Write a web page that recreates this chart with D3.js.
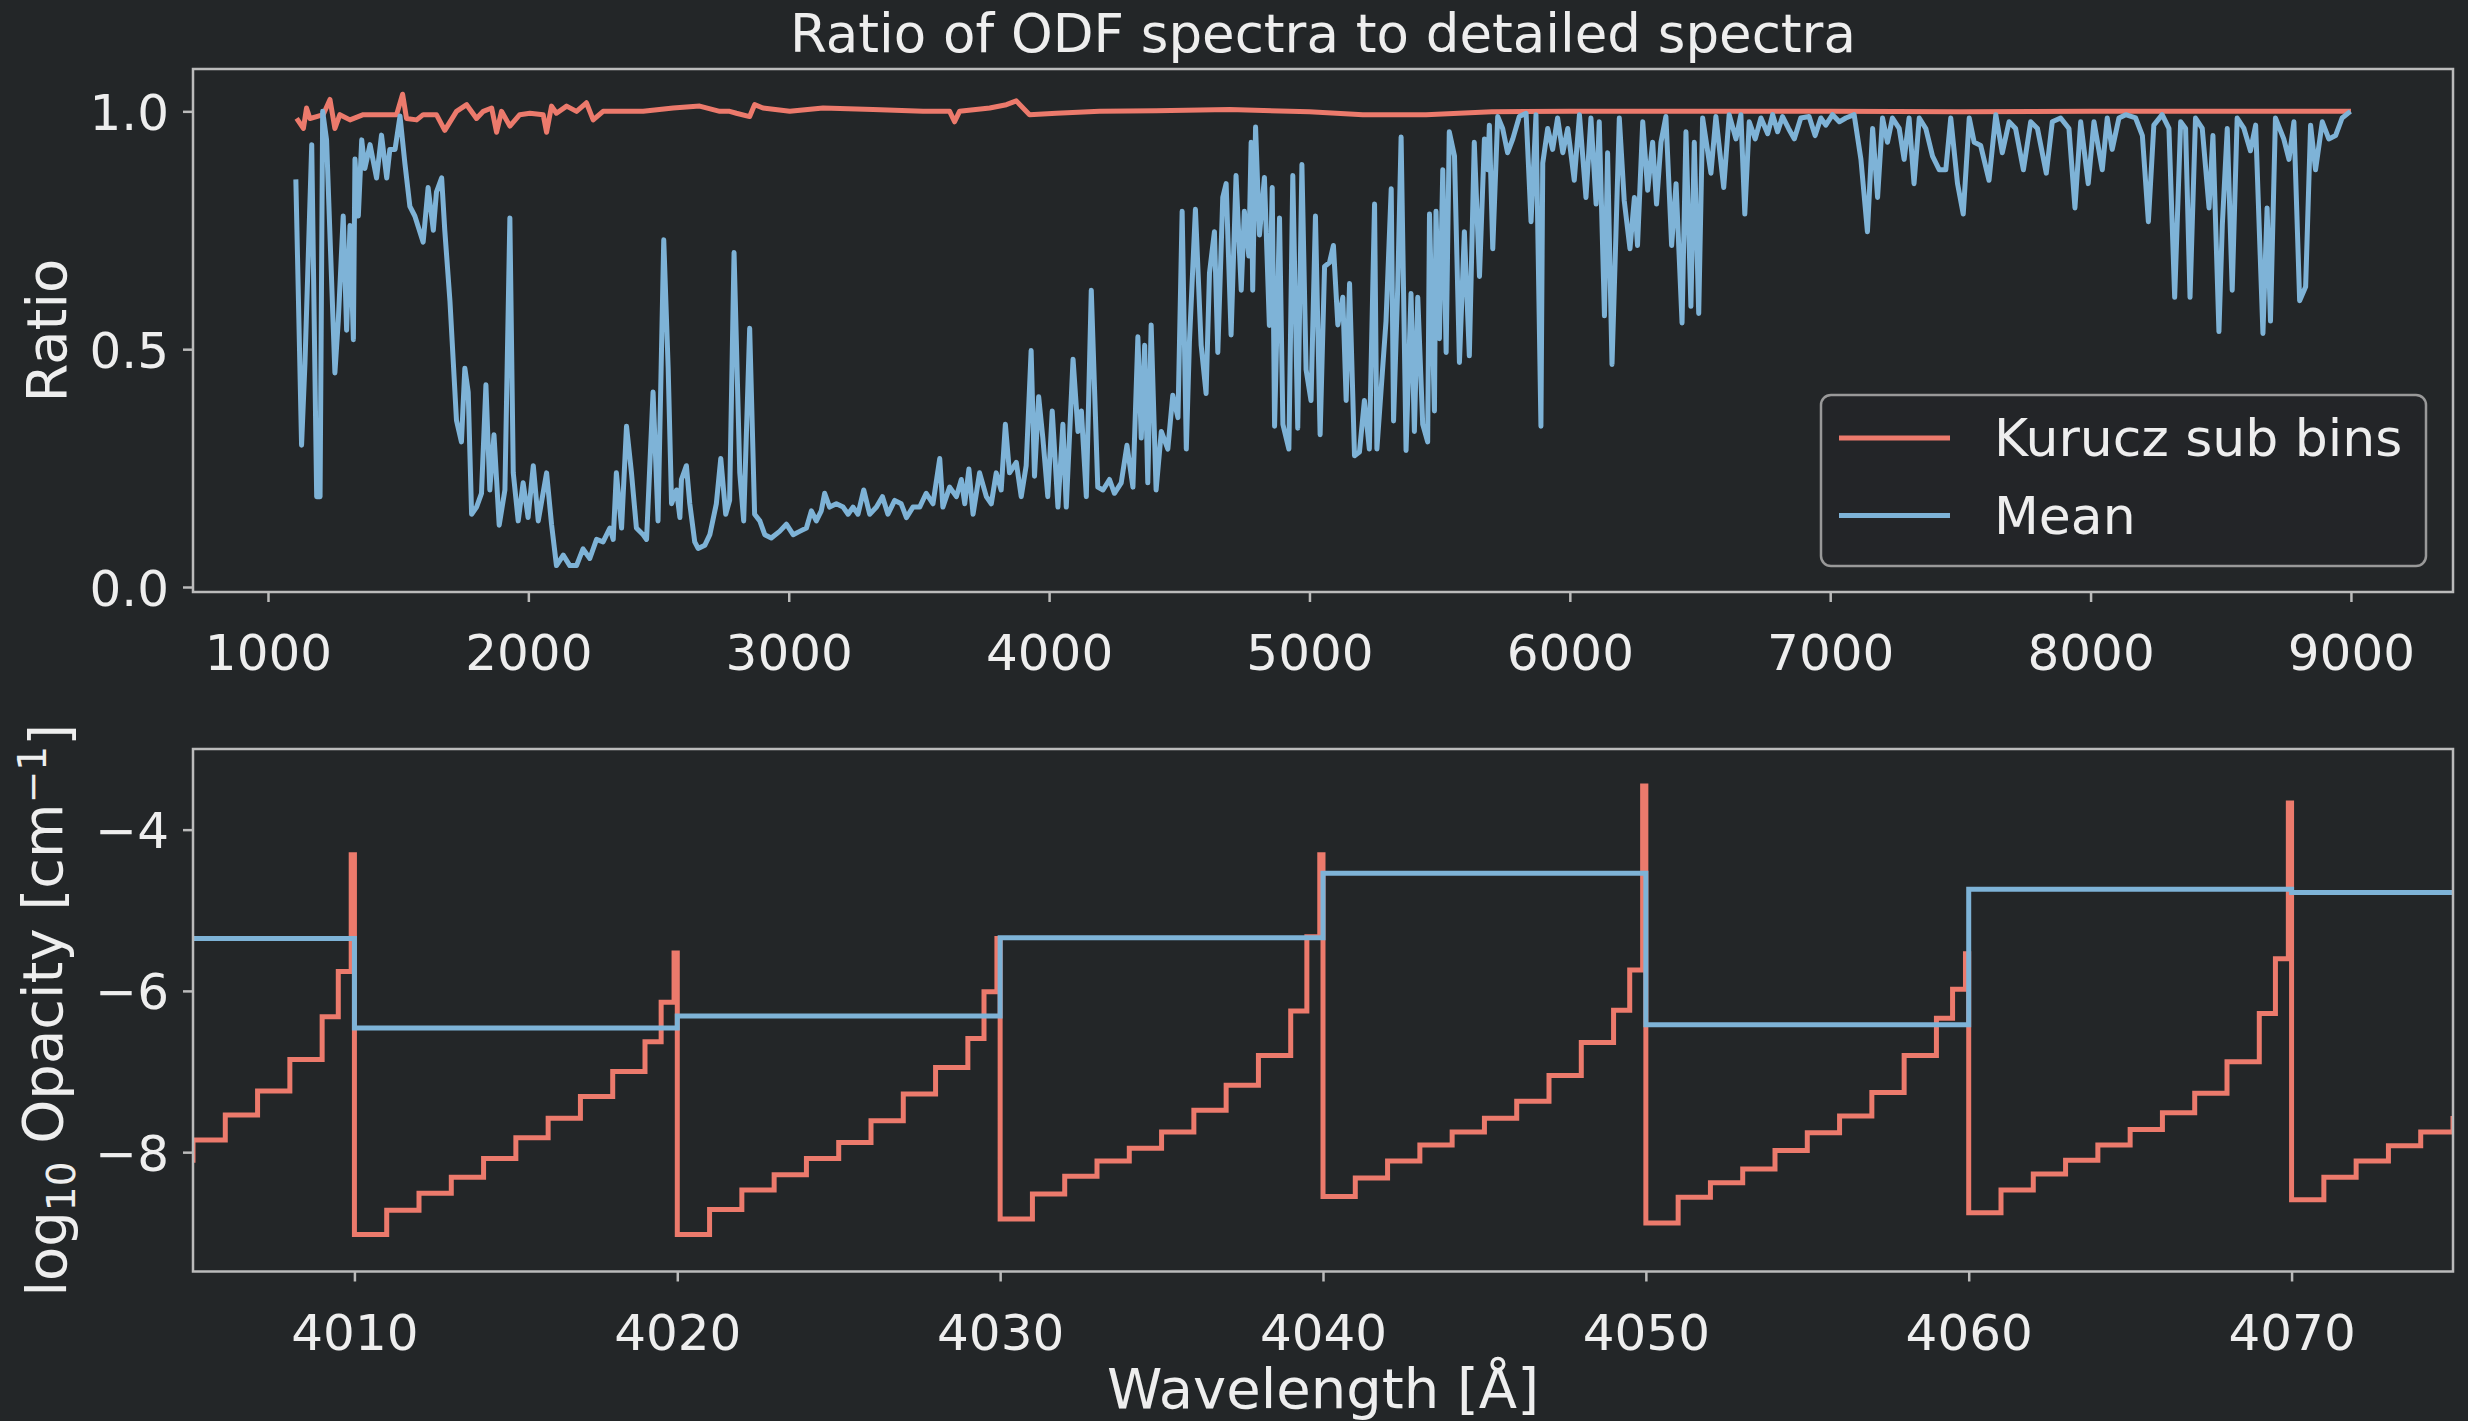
<!DOCTYPE html>
<html lang="en">
<head>
  <meta charset="UTF-8">
  <title>Ratio of ODF spectra to detailed spectra</title>
  <script src="https://d3js.org/d3.v7.min.js"></script>
  <style>
    html, body { margin: 0; padding: 0; background: #232628; }
    text { font-family: "DejaVu Sans", sans-serif; fill: #eeeeee; }
  </style>
</head>
<body>
  <div id="chart"></div>
  <script>
    // ---- top panel: ratio vs wavelength ----
    const meanWl = [1107,1129,1142,1168,1187,1200,1210,1225,1257,1270,1289,1302,1315,1328,1334,1347,1360,1372,1392,1417,1436,1456,1468,1488,1507,1526,1545,1564,1596,1615,1635,1647,1667,1679,1699,1724,1743,1756,1769,1782,1801,1820,1837,1852,1868,1888,1910,1929,1942,1961,1980,1999,2019,2038,2070,2089,2108,2134,2159,2185,2210,2236,2262,2287,2313,2326,2338,2358,2377,2396,2415,2441,
      2454,2479,2498,2520,2537,2550,2569,2582,2588,2607,2620,2639,2652,2678,2697,2722,2739,2758,2773,2790,2812,2827,2850,2869,2889,2908,2933,2965,2991,3017,3042,3068,3087,3106,3125,3138,3157,3183,3209,3228,3247,3266,3288,3311,3337,3360,3381,3407,3432,3452,3477,3503,3528,3554,3580,3592,3618,3644,3663,3676,3692,3708,3733,3759,3778,3797,3816,3832,3848,3874,3893,3912,3931,3944,3960,3976,3995,4012,4034,4053,4066,4092,4111,4124,4143,4162,4187,
      4207,4232,4251,4277,4299,4322,4341,4354,4367,4379,4392,4411,4431,4456,4475,4495,4511,4527,4539,4562,4584,4603,4616,4635,4648,4667,4680,4699,4718,4738,4750,4767,4776,4782,4793,4808,4827,4846,4857,4866,4885,4898,4921,4936,4955,4971,4987,5006,5023,5041,5058,5077,5092,5109,5128,5141,5154,5173,5192,5211,5230,5250,5259,5294,5314,5323,5339,5352,5371,5390,5403,5416,5435,5454,5461,5480,5486,5499,5512,5525,5537,5557,5576,5595,5614,5633,5653,5672,5685,5691,5704,5723,5742,5761,5781,5806,5832,5851,5870,5889,
      5896,5915,5934,5953,5973,5992,6017,6037,6062,6081,6101,6113,6133,6145,6162,6177,6190,6209,6231,6248,6260,6280,6299,6318,6333,6350,6369,6391,6408,6431,6446,6465,6478,6495,6510,6542,6561,6591,6612,6638,6657,6672,6689,6712,6734,6760,6779,6798,6817,6840,6862,6887,6919,6942,6964,6983,7009,7035,7060,7092,7118,7143,7163,7182,7201,7220,7239,7265,7284,7303,7322,7342,7367,7393,7419,7444,7463,7489,7511,7534,7553,7578,7610,7636,
      7661,7687,7712,7742,7770,7796,7830,7853,7885,7917,7940,7962,7991,8013,8045,8064,8083,8109,8135,8173,8199,8222,8243,8275,8301,8323,8346,8365,8382,8403,8429,8455,8470,8493,8506,8525,8544,8563,8589,8614,8634,8662,8678,8691,8710,8742,8762,8781,8803,8826,8845,8864,8890,8915,8941,8966,8998]
    const meanRatio = [0.857,0.298,0.47,0.93,0.19,0.19,1.0,0.94,0.45,0.56,0.78,0.54,0.76,0.52,0.9,0.78,0.94,0.88,0.93,0.86,0.95,0.86,0.92,0.92,0.99,0.89,0.8,0.78,0.725,0.84,0.75,0.83,0.86,0.75,0.6,0.35,0.305,0.46,0.41,0.153,0.168,0.197,0.425,0.204,0.32,0.13,0.204,0.776,0.24,0.139,0.219,0.146,0.255,0.139,0.24,0.132,0.045,0.067,0.045,0.045,0.08,0.06,0.1,0.095,0.124,0.1,0.24,0.124,0.338,0.24,0.124,0.11,
      0.1,0.41,0.139,0.73,0.46,0.175,0.204,0.146,0.226,0.255,0.175,0.095,0.081,0.088,0.11,0.175,0.27,0.153,0.182,0.703,0.24,0.139,0.544,0.153,0.139,0.11,0.103,0.117,0.132,0.11,0.117,0.124,0.16,0.139,0.16,0.197,0.168,0.175,0.168,0.153,0.168,0.153,0.204,0.153,0.168,0.19,0.153,0.182,0.175,0.146,0.168,0.168,0.197,0.175,0.27,0.168,0.21,0.19,0.226,0.175,0.248,0.153,0.24,0.19,0.175,0.24,0.204,0.342,0.24,0.262,0.19,0.255,0.497,0.233,0.4,0.313,0.19,0.37,0.168,0.342,0.168,0.479,0.327,0.37,0.19,0.624,0.21,
      0.204,0.226,0.197,0.219,0.298,0.21,0.526,0.313,0.508,0.219,0.551,0.204,0.327,0.29,0.403,0.356,0.79,0.29,0.515,0.794,0.508,0.407,0.66,0.747,0.493,0.819,0.848,0.53,0.865,0.624,0.79,0.696,0.935,0.624,0.967,0.74,0.861,0.55,0.84,0.338,0.776,0.342,0.29,0.865,0.334,0.888,0.457,0.392,0.78,0.32,0.674,0.682,0.718,0.551,0.609,0.392,0.638,0.276,0.284,0.392,0.29,0.805,0.29,0.559,0.837,0.349,0.631,0.946,0.287,0.617,0.327,0.609,0.342,0.305,0.784,0.37,0.79,0.522,0.877,0.493,0.957,0.906,0.472,0.747,0.486,0.935,0.653,0.942,0.877,0.971,0.711,0.989,0.964,0.913,0.942,0.989,0.996,0.768,0.993,0.338,
      0.891,0.964,0.92,0.986,0.913,0.964,0.855,0.993,0.819,0.986,0.805,0.978,0.57,0.913,0.468,0.74,0.986,0.812,0.711,0.819,0.718,0.978,0.834,0.935,0.805,0.935,0.989,0.718,0.848,0.555,0.957,0.59,0.935,0.575,0.986,0.87,0.989,0.84,0.993,0.942,0.993,0.784,0.978,0.942,0.986,0.953,0.993,0.957,0.989,0.964,0.942,0.986,0.989,0.949,0.986,0.971,0.993,0.978,0.986,0.993,0.899,0.747,0.964,0.819,0.986,0.935,0.986,0.964,0.899,0.986,0.848,0.986,0.964,0.906,0.877,0.877,0.986,0.848,0.784,0.986,0.935,0.928,0.855,0.993,
      0.913,0.978,0.964,0.877,0.978,0.964,0.87,0.978,0.986,0.964,0.797,0.978,0.848,0.978,0.877,0.986,0.92,0.986,0.993,0.986,0.949,0.768,0.971,0.993,0.964,0.609,0.978,0.964,0.609,0.986,0.964,0.797,0.949,0.537,0.761,0.964,0.624,0.986,0.964,0.917,0.971,0.533,0.797,0.559,0.986,0.942,0.899,0.978,0.602,0.631,0.971,0.877,0.978,0.942,0.949,0.986,1.0]

    const kuruczWl = [1110,1136,1148,1161,1187,1212,1238,1257,1276,1315,1366,1417,1468,1494,1517,1532,1571,1596,1647,1679,1724,1763,1801,1827,1859,1878,1897,1929,1967,2006,2057,2070,2089,2108,2147,2185,2223,2249,2287,2338,2390,2441,2556,2658,2735,2773,2799,2850,2869,2901,3004,3132,3324,3516,3618,3637,3656,3772,3836,3874,3925,4028,4194,4411,4693,5000,5205,5448,5700,6000,6500,7000,7500,8000,8500,9000]
    const kuruczRatio = [0.985,0.964,1.007,0.985,0.989,0.993,1.025,0.964,0.993,0.982,0.993,0.993,0.993,0.993,1.036,0.985,0.982,0.993,0.993,0.96,1.0,1.014,0.985,1.0,1.007,0.956,1.0,0.969,0.993,0.996,0.993,0.956,1.011,0.996,1.011,1.0,1.018,0.982,1.0,1.0,1.0,1.0,1.007,1.011,1.0,1.0,0.996,0.989,1.014,1.007,1.0,1.007,1.004,1.0,1.0,0.978,1.0,1.007,1.014,1.022,0.993,0.996,1.0,1.001,1.004,0.999,0.993,0.993,0.999,1.0,1.0,1.0,0.999,1.0,1.0,1.0]

    const ratioXTicks = [1000,2000,3000,4000,5000,6000,7000,8000,9000]
    const ratioYTicks = [0.0, 0.5, 1.0]

    // ---- bottom panel: opacity in 10 A bins ----
    const binStarts = [4000,4010,4020,4030,4040,4050,4060,4070]
    const binWidth = 10
    const subEdges = [0,0.1,0.2,0.3,0.4,0.5,0.6,0.7,0.8,0.9,0.95,0.99]
    const kuruczLevels = [
      [null,null,null,null,-8.10,-7.85,-7.54,-7.24,-6.85,-6.32,-5.76,-4.31],
      [-9.02,-8.72,-8.51,-8.31,-8.08,-7.82,-7.58,-7.31,-7.00,-6.63,-6.14,-5.53],
      [-9.02,-8.71,-8.47,-8.28,-8.08,-7.88,-7.61,-7.28,-6.95,-6.59,-6.01,-5.35],
      [-8.83,-8.52,-8.30,-8.11,-7.95,-7.75,-7.48,-7.17,-6.80,-6.25,-5.33,-4.31],
      [-8.55,-8.32,-8.11,-7.91,-7.75,-7.58,-7.37,-7.05,-6.64,-6.24,-5.74,-3.46],
      [-8.88,-8.56,-8.38,-8.21,-7.98,-7.76,-7.55,-7.26,-6.80,-6.34,-5.98,-5.54],
      [-8.75,-8.47,-8.27,-8.10,-7.91,-7.72,-7.51,-7.27,-6.88,-6.28,-5.60,-3.67],
      [-8.59,-8.31,-8.11,-7.92,-7.75,-7.55,null,null,null,null,null,null]
    ]
    const meanLevels = [-5.35,-6.46,-6.31,-5.34,-4.54,-6.42,-4.74,-4.78]

    const opacXTicks = [4010,4020,4030,4040,4050,4060,4070]
    const opacYTicks = [-8,-6,-4]

    const red = '#ec7a6c'
    const blue = '#7eb3d7'
    const spine = '#bbbbbb'

    const W = 2468, H = 1421
    const svg = d3.select('#chart').append('svg')
      .attr('width', W)
      .attr('height', H)
      .style('display', 'block')
      .style('background', '#232628')

    const topBox = { left: 193, right: 2453, top: 69, bottom: 592 }
    const botBox = { left: 193, right: 2453, top: 749, bottom: 1271.5 }

    const xTop = d3.scaleLinear().domain([712, 9392]).range([topBox.left, topBox.right])
    const yTop = d3.scaleLinear().domain([-0.0105, 1.089]).range([topBox.bottom, topBox.top])
    const xBot = d3.scaleLinear().domain([4005, 4075]).range([botBox.left, botBox.right])
    const yBot = d3.scaleLinear().domain([-9.48, -3.0]).range([botBox.bottom, botBox.top])

    function clip (id, box) {
      svg.append('clipPath').attr('id', id)
        .append('rect')
        .attr('x', box.left).attr('y', box.top)
        .attr('width', box.right - box.left).attr('height', box.bottom - box.top)
    }
    clip('clipTop', topBox)
    clip('clipBot', botBox)

    function axes (box, x, y, xticks, yticks, xfmt, yfmt) {
      const gx = svg.append('g')
        .attr('transform', 'translate(0,' + box.bottom + ')')
        .call(d3.axisBottom(x).tickValues(xticks).tickFormat(xfmt).tickSizeOuter(0).tickSize(10).tickPadding(12))
      const gy = svg.append('g')
        .attr('transform', 'translate(' + box.left + ',0)')
        .call(d3.axisLeft(y).tickValues(yticks).tickFormat(yfmt).tickSizeOuter(0).tickSize(10).tickPadding(14))
      ;[gx, gy].forEach(g => {
        g.select('.domain').remove()
        g.selectAll('line').attr('stroke', spine).attr('stroke-width', 2.5)
        g.selectAll('text').attr('fill', '#eeeeee').style('font-size', '50px')
          .style('font-family', '"DejaVu Sans", sans-serif')
      })
      gx.selectAll('text').attr('dy', '1.12em')
      gy.selectAll('text').attr('dy', '0.36em')
      svg.append('rect')
        .attr('x', box.left).attr('y', box.top)
        .attr('width', box.right - box.left).attr('height', box.bottom - box.top)
        .attr('fill', 'none').attr('stroke', spine).attr('stroke-width', 2.5)
    }

    // top panel lines
    const topLine = d3.line().x(d => xTop(d[0])).y(d => yTop(d[1]))
    const gTop = svg.append('g').attr('clip-path', 'url(#clipTop)')
    gTop.append('path')
      .datum(kuruczWl.map((w, i) => [w, kuruczRatio[i]]))
      .attr('d', topLine)
      .attr('fill', 'none').attr('stroke', red).attr('stroke-width', 5)
      .attr('stroke-linejoin', 'round')
    gTop.append('path')
      .datum(meanWl.map((w, i) => [w, meanRatio[i]]))
      .attr('d', topLine)
      .attr('fill', 'none').attr('stroke', blue).attr('stroke-width', 5)
      .attr('stroke-linejoin', 'round')

    axes(topBox, xTop, yTop, ratioXTicks, ratioYTicks, d3.format('d'), d3.format('.1f'))

    // bottom panel step lines
    const kuruczPts = []
    binStarts.forEach((b, i) => {
      subEdges.forEach((f, j) => {
        const v = kuruczLevels[i][j]
        if (v !== null) kuruczPts.push([b + f * binWidth, v])
      })
    })
    const meanPts = binStarts.map((b, i) => [b, meanLevels[i]])
    meanPts.push([binStarts[binStarts.length - 1] + binWidth, meanLevels[meanLevels.length - 1]])

    const stepLine = d3.line().x(d => xBot(d[0])).y(d => yBot(d[1])).curve(d3.curveStepAfter)
    const gBot = svg.append('g').attr('clip-path', 'url(#clipBot)')
    gBot.append('path')
      .datum(kuruczPts)
      .attr('d', stepLine)
      .attr('fill', 'none').attr('stroke', red).attr('stroke-width', 5)
    gBot.append('path')
      .datum(meanPts)
      .attr('d', stepLine)
      .attr('fill', 'none').attr('stroke', blue).attr('stroke-width', 5)

    axes(botBox, xBot, yBot, opacXTicks, opacYTicks, d3.format('d'), d3.format('d'))

    // title and labels
    svg.append('text')
      .attr('x', (topBox.left + topBox.right) / 2).attr('y', 52)
      .attr('text-anchor', 'middle')
      .style('font-size', '53px')
      .text('Ratio of ODF spectra to detailed spectra')

    svg.append('text')
      .attr('transform', 'translate(66,' + (topBox.top + topBox.bottom) / 2 + ') rotate(-90)')
      .attr('text-anchor', 'middle')
      .style('font-size', '56px')
      .text('Ratio')

    const yl = svg.append('text')
      .attr('transform', 'translate(66,' + (botBox.top + botBox.bottom) / 2 + ') rotate(-90)')
      .attr('text-anchor', 'middle')
      .style('font-size', '56px')
    yl.append('tspan').text('log')
    yl.append('tspan').attr('dy', '0.22em').style('font-size', '39px').text('10')
    yl.append('tspan').attr('dy', '-0.22em').text(' Opacity [cm')
    yl.append('tspan').attr('dy', '-0.42em').style('font-size', '39px').text('\u22121')
    yl.append('tspan').attr('dy', '0.42em').text(']')

    svg.append('text')
      .attr('x', (botBox.left + botBox.right) / 2).attr('y', 1408)
      .attr('text-anchor', 'middle')
      .style('font-size', '56px')
      .text('Wavelength [\u00c5]')

    // legend
    const lg = svg.append('g')
    lg.append('rect')
      .attr('x', 1821).attr('y', 395).attr('width', 605).attr('height', 171)
      .attr('rx', 10).attr('ry', 10)
      .attr('fill', '#232628').attr('fill-opacity', 0.8)
      .attr('stroke', '#999999').attr('stroke-width', 2.5)
    const legendItems = [['Kurucz sub bins', red], ['Mean', blue]]
    legendItems.forEach((it, i) => {
      const yy = 438 + i * 77.5
      lg.append('line')
        .attr('x1', 1839).attr('x2', 1950).attr('y1', yy).attr('y2', yy)
        .attr('stroke', it[1]).attr('stroke-width', 5)
      lg.append('text')
        .attr('x', 1994).attr('y', yy + 18)
        .style('font-size', '52px')
        .text(it[0])
    })
  </script>
</body>
</html>
